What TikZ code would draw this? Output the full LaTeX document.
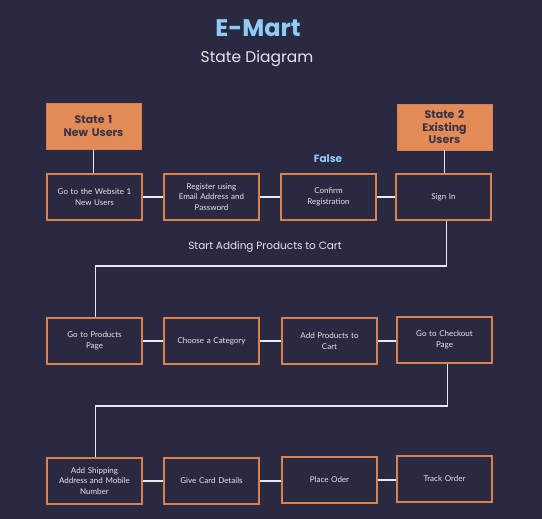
\documentclass[tikz,border=0pt]{standalone}
\usepackage{fontspec}
\setmainfont{Lato}
\newfontfamily\pop{Poppins}
\definecolor{bgc}{HTML}{292942}
\definecolor{orng}{HTML}{E38B57}
\definecolor{bord}{HTML}{DA814E}
\definecolor{ttl}{HTML}{8ECBF5}
\definecolor{txt}{HTML}{E6E6EC}
\definecolor{dk}{HTML}{3A3346}
\definecolor{wire}{HTML}{E8E8EE}
\tikzset{
  stepbox/.style={draw=bord, line width=1.5pt, fill=bgc, minimum width=95pt, minimum height=46pt,
    text width=90pt, align=center, inner sep=1pt, font=\fontsize{8}{10.5}\selectfont, text=txt},
  statebox/.style={draw=bord, line width=0.8pt, fill=orng, minimum width=95pt, minimum height=46pt,
    text width=90pt, align=center, inner sep=1pt, font=\pop\bfseries\fontsize{11}{12.5}\selectfont, text=dk},
  wirel/.style={draw=wire, line width=1.8pt}
}
\begin{document}
\begin{tikzpicture}[x=1pt,y=-1pt]
\fill[bgc] (0,0) rectangle (542,519);
\useasboundingbox (0,0) rectangle (542,519);
\node[font=\pop\bfseries\fontsize{24}{28}\selectfont, text=ttl] (title) at (258,28) {E-Mart};
\node[font=\pop\fontsize{15.5}{18}\selectfont, text=txt] (sub) at (257,59) {State Diagram};

\node[statebox] (s1) at (93.5,126) {State 1\\New Users};
\node[statebox] (s2) at (444.5,127) {State 2\\Existing\\Users};

\node[stepbox] (a1) at (94.5,197) {Go to the Website 1\\New Users};
\node[stepbox] (a2) at (211.5,197) {Register using\\Email Address and\\Password};
\node[stepbox] (a3) at (328.5,197) {Confirm\\Registration};
\node[stepbox] (a4) at (443.5,197) {Sign In};

\node[stepbox] (b1) at (94.5,341) {Go to Products\\Page};
\node[stepbox] (b2) at (211.5,341) {Choose a Category};
\node[stepbox] (b3) at (329.5,341) {Add Products to\\Cart};
\node[stepbox] (b4) at (444.5,340) {Go to Checkout\\Page};

\node[stepbox] (c1) at (94.5,481) {Add Shipping\\Address and Mobile\\Number};
\node[stepbox] (c2) at (211.5,481) {Give Card Details};
\node[stepbox] (c3) at (329.5,480) {Place Oder};
\node[stepbox] (c4) at (444.5,479) {Track Order};

\node[font=\pop\bfseries\fontsize{10.5}{12}\selectfont, text=ttl] (false) at (328,159) {False};
\node[font=\pop\fontsize{10.5}{12}\selectfont, text=txt] (start) at (265,247) {Start Adding Products to Cart};

\coordinate (r1) at (270,266);
\coordinate (r2) at (270,406);

\draw[wirel] (s1.south) -- (s1.south |- a1.north);
\draw[wirel] (s2.south) -- (s2.south |- a4.north);
\draw[wirel] (a1.east) -- (a1.east -| a2.west);
\draw[wirel] (a2.east) -- (a2.east -| a3.west);
\draw[wirel] (a3.east) -- (a3.east -| a4.west);
\draw[wirel] ([xshift=3pt]a4.south) |- (r1) -| ([xshift=1pt]b1.north);
\draw[wirel] (b1.east) -- (b1.east -| b2.west);
\draw[wirel] (b2.east) -- (b2.east -| b3.west);
\draw[wirel] (b3.east) -- (b3.east -| b4.west);
\draw[wirel] ([xshift=3pt]b4.south) |- (r2) -| ([xshift=1pt]c1.north);
\draw[wirel] (c1.east) -- (c1.east -| c2.west);
\draw[wirel] (c2.east) -- (c2.east -| c3.west);
\draw[wirel] (c3.east) -- (c3.east -| c4.west);
\end{tikzpicture}
\end{document}
